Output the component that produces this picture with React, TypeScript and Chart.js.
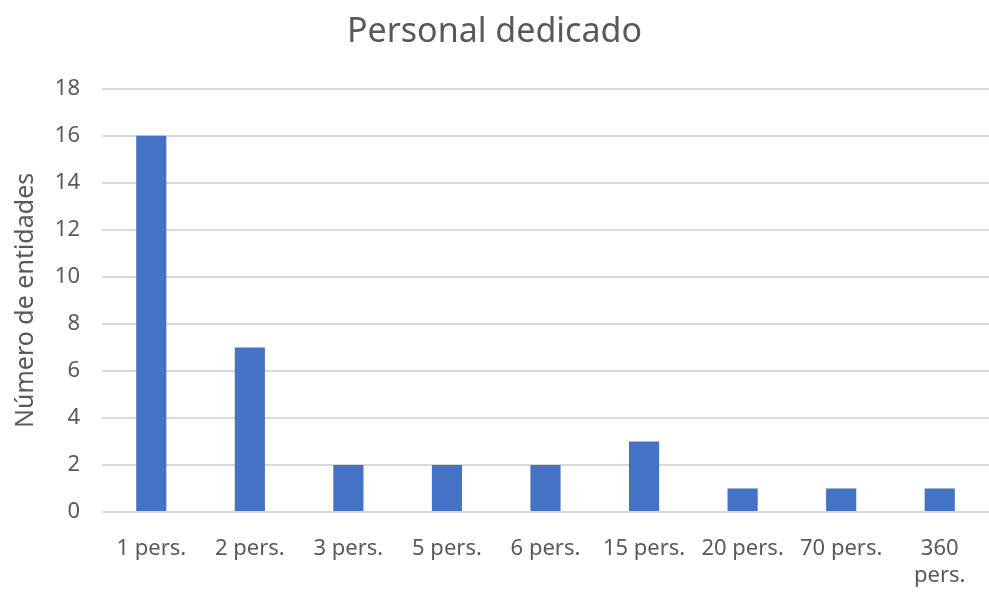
import React, { useEffect, useRef } from "react";
import { Chart, registerables } from "chart.js";

Chart.register(...registerables);

const categories: (string | string[])[] = [
  "1 pers.",
  "2 pers.",
  "3 pers.",
  "5 pers.",
  "6 pers.",
  "15 pers.",
  "20 pers.",
  "70 pers.",
  ["360", "pers."],
];
const entidades: number[] = [16, 7, 2, 2, 2, 3, 1, 1, 1];
const yTicks: number[] = [0, 2, 4, 6, 8, 10, 12, 14, 16, 18];

const FONT = "'Noto Sans', 'Open Sans', sans-serif";
const TEXT = "#595959";

export default function App() {
  const ref = useRef<HTMLCanvasElement | null>(null);
  useEffect(() => {
    document.body.style.margin = "0";
    const ctx = ref.current!.getContext("2d")!;
    const chart = new Chart(ctx, {
      type: "bar",
      data: {
        labels: categories,
        datasets: [
          {
            label: "Número de entidades",
            data: entidades,
            backgroundColor: "#4472C4",
            borderWidth: 0,
            barPercentage: 0.6,
            categoryPercentage: 0.51,
          },
        ],
      },
      options: {
        responsive: false,
        animation: false,
        layout: { padding: { left: 0, right: 0, top: 0, bottom: 0 } },
        plugins: {
          legend: { display: false },
          tooltip: { enabled: false },
          title: {
            display: true,
            text: "Personal dedicado",
            color: TEXT,
            font: { family: FONT, size: 34, weight: "normal" },
            padding: { top: 12, bottom: 36 },
          },
        },
        scales: {
          x: {
            grid: { display: false },
            border: { display: false },
            ticks: {
              color: TEXT,
              font: { family: FONT, size: 22 },
              maxRotation: 0,
              autoSkip: false,
              padding: 16,
            },
            afterFit: (scale: any) => {
              scale.height = 80;
            },
          },
          y: {
            min: 0,
            max: 18,
            afterBuildTicks: (scale: any) => {
              scale.ticks = yTicks.map((v) => ({ value: v }));
            },
            grid: { color: "#D9D9D9", lineWidth: 2, drawTicks: false },
            border: { display: false },
            ticks: {
              color: TEXT,
              font: { family: FONT, size: 22 },
              padding: 22,
            },
            title: {
              display: true,
              text: "Número de entidades",
              color: TEXT,
              font: { family: FONT, size: 25 },
              padding: { top: 11, bottom: 6 },
            },
            afterFit: (scale: any) => {
              scale.width = 102;
            },
          },
        },
      },
    });
    return () => chart.destroy();
  }, []);
  return (
    <div style={{ width: 989, height: 592, background: "#fff" }}>
      <canvas ref={ref} width={989} height={592} />
    </div>
  );
}
